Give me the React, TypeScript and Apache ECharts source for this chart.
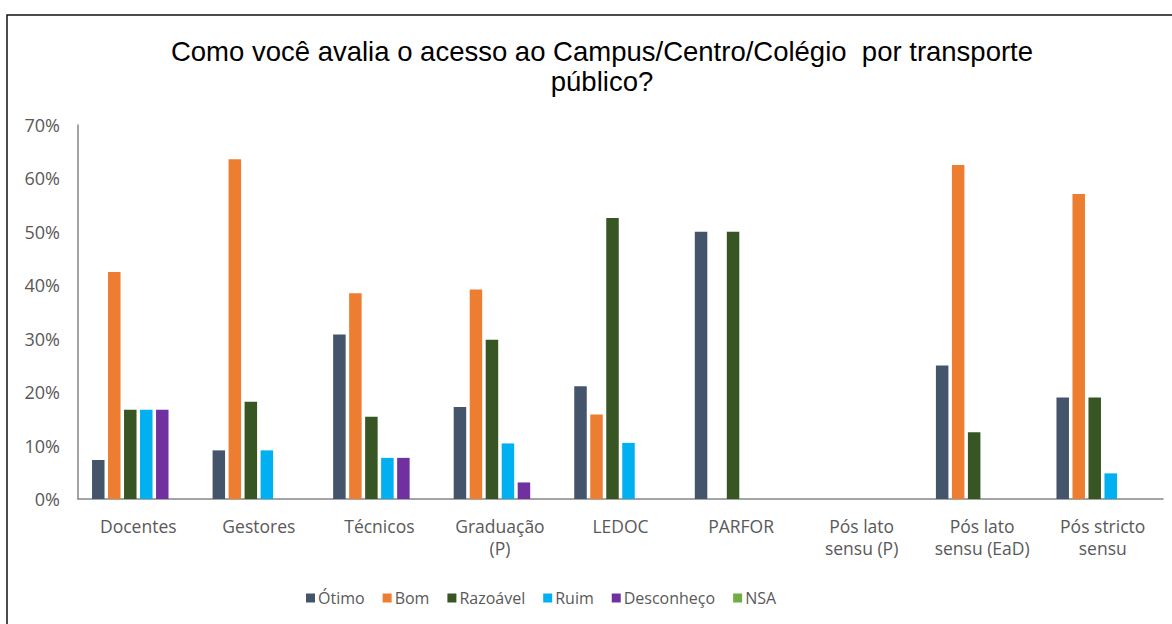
import React, { useEffect, useRef } from "react";
import * as echarts from "echarts";

const categories = [
  "Docentes",
  "Gestores",
  "Técnicos",
  "Graduação\n(P)",
  "LEDOC",
  "PARFOR",
  "Pós lato\nsensu (P)",
  "Pós lato\nsensu (EaD)",
  "Pós stricto\nsensu",
];

const seriesNames = ["Ótimo", "Bom", "Razoável", "Ruim", "Desconheço", "NSA"];

const otimo = [7.3, 9.1, 30.8, 17.2, 21.1, 50, 0, 25.0, 19.0];
const bom = [42.5, 63.6, 38.5, 39.2, 15.8, 0, 0, 62.5, 57.1];
const razoavel = [16.7, 18.2, 15.4, 29.8, 52.6, 50, 0, 12.5, 19.0];
const ruim = [16.7, 9.1, 7.7, 10.4, 10.5, 0, 0, 0, 4.8];
const desconheco = [16.7, 0, 7.7, 3.1, 0, 0, 0, 0, 0];
const nsa = [0, 0, 0, 0, 0, 0, 0, 0, 0];

const colors = ["#44546A", "#ED7D31", "#375623", "#00B0F0", "#7030A0", "#70AD47"];

const yTicks = [0, 10, 20, 30, 40, 50, 60, 70];

export default function App() {
  const ref = useRef<HTMLDivElement>(null);

  useEffect(() => {
    if (!ref.current) return;
    const chart = echarts.init(ref.current, null, { renderer: "svg" });
    const allData = [otimo, bom, razoavel, ruim, desconheco, nsa];
    const labelFont = "'Open Sans', sans-serif";
    chart.setOption({
      animation: false,
      backgroundColor: "#ffffff",
      color: colors,
      title: {
        text: "Como você avalia o acesso ao Campus/Centro/Colégio  por transporte\npúblico?",
        left: 597,
        top: 31,
        textAlign: "center",
        textStyle: {
          fontFamily: "'Liberation Sans', Arial, sans-serif",
          fontSize: 27.5,
          fontWeight: "normal",
          color: "#000000",
          lineHeight: 30,
        },
      },
      graphic: [
        {
          type: "rect",
          shape: { x: 7, y: 15, width: 1200, height: 700 },
          style: { fill: "none", stroke: "#111111", lineWidth: 1.5 },
          silent: true,
        },
      ],
      legend: {
        left: 301,
        top: 585,
        itemWidth: 9,
        itemHeight: 9,
        itemGap: 18,
        icon: "rect",
        textStyle: { fontFamily: labelFont, fontSize: 16, color: "#595959", padding: [0, 0, 0, -2] },
        data: seriesNames,
      },
      grid: { left: 78, right: 9, top: 125, bottom: 125, containLabel: false },
      xAxis: {
        type: "category",
        data: categories,
        axisLine: { show: true, lineStyle: { color: "#868686", width: 1.5 } },
        axisTick: { show: false },
        axisLabel: {
          interval: 0,
          fontFamily: labelFont,
          fontSize: 17.5,
          color: "#595959",
          lineHeight: 22,
          margin: 16,
        },
      },
      yAxis: {
        type: "value",
        min: 0,
        max: 70,
        interval: 10,
        axisLine: { show: true, lineStyle: { color: "#868686", width: 1.5 } },
        axisTick: { show: false },
        splitLine: { show: false },
        axisLabel: {
          fontFamily: labelFont,
          fontSize: 18,
          color: "#595959",
          margin: 18,
          formatter: (v: number) => (yTicks.includes(v) ? v + "%" : ""),
        },
      },
      series: seriesNames.map((name, i) => ({
        name,
        type: "bar",
        data: allData[i],
        barWidth: 12.5,
        barGap: "28%",
        itemStyle: { color: colors[i] },
      })),
    });
    return () => chart.dispose();
  }, []);

  return (
    <div
      ref={ref}
      style={{ position: "absolute", left: 0, top: 0, width: 1172, height: 624 }}
    />
  );
}
